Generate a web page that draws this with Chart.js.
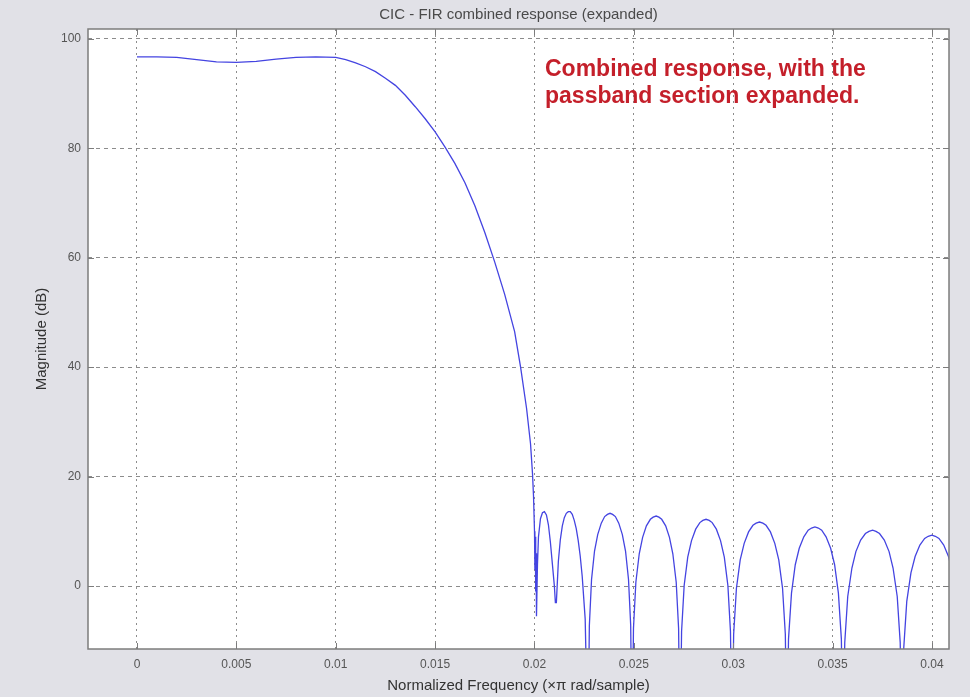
<!DOCTYPE html>
<html>
<head>
<meta charset="utf-8">
<title>CIC - FIR combined response (expanded)</title>
<script src="https://cdn.jsdelivr.net/npm/chart.js@4.4.1/dist/chart.umd.min.js"></script>
<style>
  html, body { margin: 0; padding: 0; background: #e1e1e7; }
  #wrap { width: 970px; height: 697px; position: relative; }
</style>
</head>
<body>
<div id="wrap"><canvas id="chart-response"></canvas></div>
<script>
// tick labels
const xTicks = [0, 0.005, 0.01, 0.015, 0.02, 0.025, 0.03, 0.035, 0.04];
const xTickLabels = ['0', '0.005', '0.01', '0.015', '0.02', '0.025', '0.03', '0.035', '0.04'];
const yTicks = [0, 20, 40, 60, 80, 100];
const yTickLabels = ['0', '20', '40', '60', '80', '100'];

// passband (flat part)
const passbandFreq = [0, 0.001, 0.002, 0.003, 0.004, 0.005, 0.006, 0.007, 0.008, 0.009, 0.010];
const passbandDb   = [96.7, 96.7, 96.6, 96.2, 95.8, 95.7, 95.9, 96.3, 96.6, 96.7, 96.6];

// roll-off down to the stopband edge
const transitionFreq = [0.0105, 0.011, 0.0115, 0.012, 0.0125, 0.013, 0.0135, 0.014, 0.0145, 0.015,
                        0.0155, 0.016, 0.0165, 0.017, 0.0175, 0.018, 0.0185, 0.019, 0.0193, 0.0196,
                        0.0198, 0.0199, 0.01995, 0.0200, 0.02002, 0.02004, 0.02006, 0.02008];
const transitionDb   = [96.2, 95.6, 94.9, 94.0, 92.8, 91.5, 89.7, 87.6, 85.4, 83.0,
                        80.2, 77.2, 73.7, 69.5, 64.6, 59.2, 53.3, 46.5, 40.0, 32.5,
                        26.0, 20.5, 16.5, 10.0, 3.0, 9.0, -1.0, 6.0];

// stopband lobes, one row per lobe
const stopbandFreq = [
  0.0201, 0.02015, 0.0202, 0.0203, 0.0204, 0.0205, 0.0206, 0.0207, 0.0208, 0.0209, 0.0210, 0.02105, 0.0211,
  0.0212, 0.0213, 0.0214, 0.0215, 0.0216, 0.0217, 0.0218, 0.0219, 0.0220, 0.0221, 0.0222, 0.0223, 0.0224, 0.02255, 0.02269,
  0.02276, 0.02287, 0.02302, 0.02318, 0.02336, 0.02353, 0.02367, 0.02380, 0.02393, 0.02407, 0.02424, 0.02442, 0.02458, 0.02473, 0.02484, 0.02491,
  0.02498, 0.02510, 0.02527, 0.02544, 0.02563, 0.02583, 0.02597, 0.02612, 0.02626, 0.02640, 0.02660, 0.02679, 0.02696, 0.02713, 0.02725, 0.02732,
  0.02740, 0.02753, 0.02771, 0.02790, 0.02811, 0.02832, 0.02847, 0.02863, 0.02879, 0.02894, 0.02915, 0.02936, 0.02955, 0.02973, 0.02986, 0.02994,
  0.03002, 0.03016, 0.03035, 0.03055, 0.03077, 0.03099, 0.03115, 0.03132, 0.03149, 0.03165, 0.03187, 0.03209, 0.03229, 0.03248, 0.03262, 0.03270,
  0.03278, 0.03293, 0.03312, 0.03332, 0.03355, 0.03377, 0.03394, 0.03411, 0.03428, 0.03445, 0.03467, 0.03490, 0.03510, 0.03529, 0.03544, 0.03552,
  0.03561, 0.03576, 0.03597, 0.03617, 0.03641, 0.03665, 0.03683, 0.03701, 0.03718, 0.03736, 0.03760, 0.03784, 0.03804, 0.03825, 0.03840, 0.03849,
  0.03858, 0.03873, 0.03894, 0.03915, 0.03939, 0.03963, 0.03981, 0.03999, 0.04017, 0.04035, 0.04059, 0.04083, 0.04104
];
const stopbandDb = [
  -5.5, 4.0, 9.0, 12.3, 13.4, 13.6, 13.0, 11.2, 8.0, 4.0, 0.0, -3.0, -3.0,
  4.5, 8.5, 11.0, 12.5, 13.3, 13.6, 13.6, 13.1, 12.0, 10.5, 8.3, 5.5, 1.8, -6.0, -30,
  -7.2, 1.2, 6.4, 9.4, 11.5, 12.7, 13.1, 13.3, 13.1, 12.7, 11.5, 9.4, 6.4, 1.2, -7.2, -30,
  -7.7, 0.7, 5.9, 8.9, 11.0, 12.2, 12.6, 12.8, 12.6, 12.2, 11.0, 8.9, 5.9, 0.7, -7.7, -30,
  -8.3, 0.1, 5.3, 8.3, 10.4, 11.6, 12.0, 12.2, 12.0, 11.6, 10.4, 8.3, 5.3, 0.1, -8.3, -30,
  -8.8, -0.4, 4.8, 7.8, 9.9, 11.1, 11.5, 11.7, 11.5, 11.1, 9.9, 7.8, 4.8, -0.4, -8.8, -30,
  -9.7, -1.3, 3.9, 6.9, 9.0, 10.2, 10.6, 10.8, 10.6, 10.2, 9.0, 6.9, 3.9, -1.3, -9.7, -30,
  -10.3, -1.9, 3.3, 6.3, 8.4, 9.6, 10.0, 10.2, 10.0, 9.6, 8.4, 6.3, 3.3, -1.9, -10.3, -30,
  -11.2, -2.8, 2.4, 5.4, 7.5, 8.7, 9.1, 9.3, 9.1, 8.7, 7.5, 5.4, 2.4
];

const freq = passbandFreq.concat(transitionFreq, stopbandFreq);
const magDb = passbandDb.concat(transitionDb, stopbandDb);
const points = freq.map((f, i) => ({ x: f, y: magDb[i] }));

const FONT = '"Liberation Sans", Arial, sans-serif';
const TEXT_GREY = '#4a4a4a';

// white plot area, box with inward ticks, red note
const framePlugin = {
  id: 'frame',
  beforeDraw(chart) {
    const { ctx, chartArea: a } = chart;
    ctx.save();
    ctx.fillStyle = '#ffffff';
    ctx.fillRect(a.left, a.top, a.right - a.left, a.bottom - a.top);
    ctx.restore();
  },
  afterDraw(chart) {
    const { ctx, chartArea: a } = chart;
    const xs = chart.scales.x, ys = chart.scales.y;
    ctx.save();
    ctx.strokeStyle = '#7c7c7c';
    ctx.lineWidth = 1.5;
    ctx.strokeRect(a.left, a.top, a.right - a.left, a.bottom - a.top);
    ctx.lineWidth = 1;
    ctx.beginPath();
    xTicks.forEach(v => {
      const px = Math.round(xs.getPixelForValue(v)) + 0.5;
      ctx.moveTo(px, a.bottom); ctx.lineTo(px, a.bottom - 6);
      ctx.moveTo(px, a.top); ctx.lineTo(px, a.top + 6);
    });
    yTicks.forEach(v => {
      const py = Math.round(ys.getPixelForValue(v)) + 0.5;
      ctx.moveTo(a.left, py); ctx.lineTo(a.left + 6, py);
      ctx.moveTo(a.right, py); ctx.lineTo(a.right - 6, py);
    });
    ctx.stroke();

    ctx.fillStyle = '#c41f2a';
    ctx.font = 'bold 23px ' + FONT;
    ctx.textBaseline = 'middle';
    ctx.textAlign = 'left';
    ctx.fillText('Combined response, with the', 545, 70);
    ctx.fillText('passband section expanded.', 545, 97);
    ctx.restore();
  }
};

const options = {
  responsive: true,
  maintainAspectRatio: false,
  animation: false,
  layout: { padding: { left: 0, right: 21, top: 0, bottom: 0 } },
  plugins: {
    legend: { display: false },
    tooltip: { enabled: false },
    title: {
      display: true,
      fullSize: false,
      text: 'CIC - FIR combined response (expanded)',
      color: TEXT_GREY,
      font: { family: FONT, size: 15, weight: 'normal' },
      padding: { top: 6, bottom: 5 }
    }
  },
  scales: {
    x: {
      type: 'linear',
      min: -0.002465,
      max: 0.040855,
      afterFit(scale) { scale.height = 48; },
      afterBuildTicks(scale) { scale.ticks = xTicks.map(v => ({ value: v })); },
      grid: { color: '#8c8c8c', lineWidth: 1, drawTicks: false },
      border: { display: false, dash: [2, 4] },
      ticks: {
        autoSkip: false, maxRotation: 0, padding: 8,
        color: '#555555', font: { family: FONT, size: 12 },
        callback: (v) => xTickLabels[xTicks.indexOf(v)]
      },
      title: {
        display: true,
        text: 'Normalized Frequency (\u00d7\u03c0 rad/sample)',
        color: '#333333',
        font: { family: FONT, size: 15 },
        padding: { top: 0, bottom: 2 }
      }
    },
    y: {
      type: 'linear',
      min: -11.5,
      max: 101.8,
      afterFit(scale) { scale.width = 88; },
      afterBuildTicks(scale) { scale.ticks = yTicks.map(v => ({ value: v })); },
      grid: { color: '#8c8c8c', lineWidth: 1, drawTicks: false },
      border: { display: false, dash: [4, 4] },
      ticks: {
        autoSkip: false, padding: 7,
        color: '#555555', font: { family: FONT, size: 12 },
        callback: (v) => yTickLabels[yTicks.indexOf(v)]
      },
      title: {
        display: true,
        text: 'Magnitude (dB)',
        color: '#333333',
        font: { family: FONT, size: 15 },
        padding: { top: 33, bottom: 0 }
      }
    }
  }
};

const responseChart = new Chart(document.getElementById('chart-response'), {
  type: 'line',
  data: {
    datasets: [{
      data: points,
      borderColor: 'rgb(68, 68, 225)',
      borderWidth: 1.3,
      pointRadius: 0,
      tension: 0,
      clip: 0
    }]
  },
  options,
  plugins: [framePlugin]
});
</script>
</body>
</html>
